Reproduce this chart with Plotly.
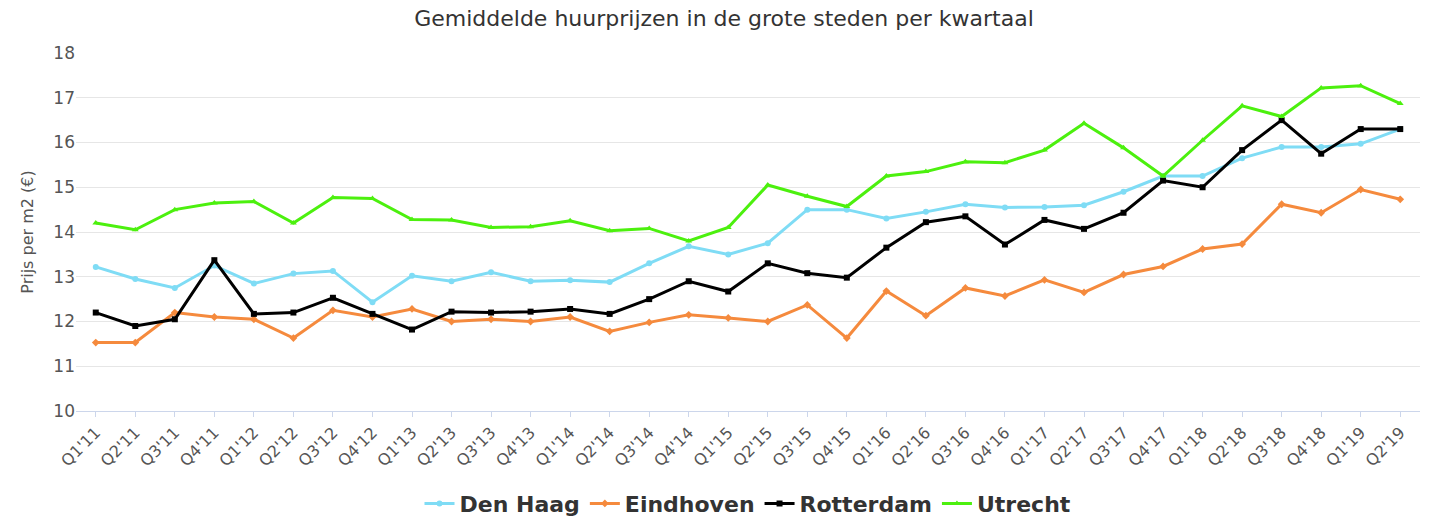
import plotly.graph_objects as go

quarters = [f"Q{q}'{y}" for y in range(11, 20) for q in range(1, 5)][:34]

den_haag = [13.22, 12.95, 12.75, 13.25, 12.85, 13.07, 13.13, 12.43, 13.02, 12.9, 13.1, 12.9,
            12.92, 12.88, 13.3, 13.68, 13.5, 13.75, 14.5, 14.5, 14.3, 14.45, 14.62, 14.55,
            14.56, 14.6, 14.9, 15.25, 15.25, 15.65, 15.9, 15.9, 15.97, 16.3]
eindhoven = [11.53, 11.53, 12.2, 12.1, 12.05, 11.63, 12.25, 12.1, 12.28, 12.0, 12.05, 12.0,
             12.1, 11.78, 11.98, 12.15, 12.08, 12.0, 12.37, 11.63, 12.68, 12.13, 12.75, 12.57,
             12.93, 12.65, 13.05, 13.23, 13.62, 13.73, 14.62, 14.43, 14.95, 14.73]
rotterdam = [12.2, 11.9, 12.05, 13.37, 12.17, 12.2, 12.53, 12.17, 11.82, 12.22, 12.2, 12.22,
             12.28, 12.17, 12.5, 12.9, 12.67, 13.3, 13.08, 12.98, 13.65, 14.22, 14.35, 13.72,
             14.27, 14.07, 14.43, 15.15, 15.0, 15.83, 16.5, 15.75, 16.3, 16.3]
utrecht = [14.2, 14.05, 14.5, 14.65, 14.68, 14.2, 14.77, 14.75, 14.28, 14.27, 14.1, 14.12,
           14.25, 14.03, 14.08, 13.8, 14.1, 15.05, 14.8, 14.57, 15.25, 15.35, 15.57, 15.55,
           15.83, 16.43, 15.88, 15.25, 16.05, 16.82, 16.58, 17.22, 17.27, 16.87]

series = [
    ("Den Haag", den_haag, "#7fdcf5", "circle"),
    ("Eindhoven", eindhoven, "#f58a3d", "diamond"),
    ("Rotterdam", rotterdam, "#000000", "square"),
    ("Utrecht", utrecht, "#4cf00e", "triangle-up"),
]

fig = go.Figure()
for name, vals, color, sym in series:
    fig.add_trace(go.Scatter(x=quarters, y=vals, name=f"<b>{name}</b>", mode="lines+markers",
                             line=dict(color=color, width=3),
                             marker=dict(color=color, symbol=sym, size=6)))

fig.update_layout(
    width=1432, height=529,
    title=dict(text="Gemiddelde huurprijzen in de grote steden per kwartaal",
               x=0.5, y=0.995, yanchor="top", font=dict(size=22, color="#333")),
    font=dict(family="DejaVu Sans", color="#555"),
    plot_bgcolor="white", paper_bgcolor="white",
    margin=dict(l=68, r=20, t=45, b=105),
    legend=dict(orientation="h", x=0.5, xanchor="center", y=-0.2, yanchor="top",
                font=dict(size=22, color="#333", family="DejaVu Sans"), itemwidth=30),
    showlegend=True,
)
fig.update_xaxes(tickangle=-45, tickfont=dict(size=16), showgrid=False,
                 showline=True, linecolor="#ccd6eb", ticks="outside", tickcolor="#ccd6eb",
                 range=[-0.5, 33.5])
fig.update_yaxes(range=[10, 18], dtick=1, gridcolor="#e6e6e6", tickfont=dict(size=17),
                 title=dict(text="Prijs per m2 (€)", font=dict(size=16)), zeroline=False)

fig.write_html("out.html")
